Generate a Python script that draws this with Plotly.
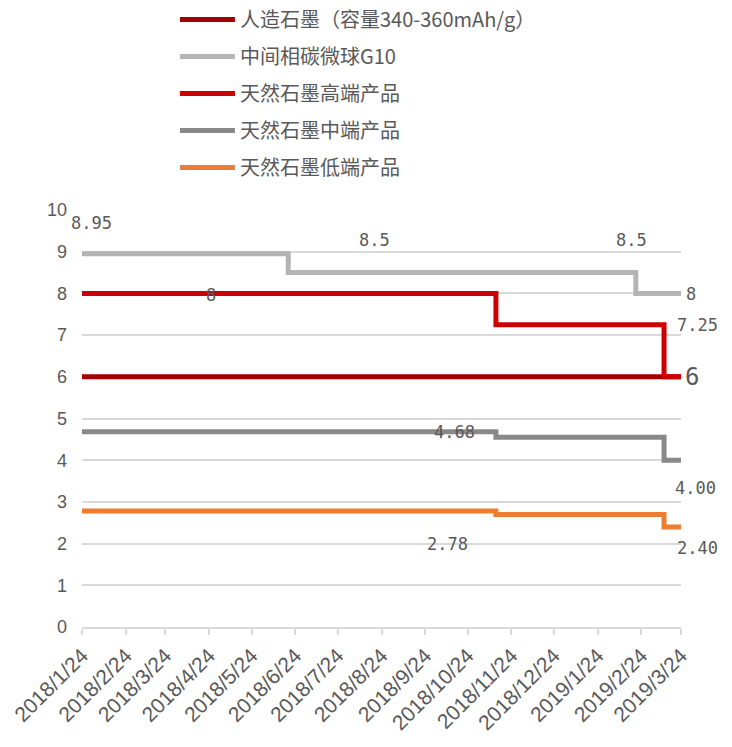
import plotly.graph_objects as go

# ---- data ----
names = ["人造石墨（容量340-360mAh/g）", "中间相碳微球G10", "天然石墨高端产品", "天然石墨中端产品", "天然石墨低端产品"]
colors = ["#A00000", "#B4B4B4", "#CC0000", "#898989", "#ED7D31"]

art_dates = ["2018-01-24", "2019-03-24"]
art_vals = [6, 6]
g10_dates = ["2018-01-24", "2018-06-19", "2019-02-20", "2019-03-24"]
g10_vals = [8.95, 8.5, 8, 8]
high_dates = ["2018-01-24", "2018-11-13", "2019-03-12", "2019-03-24"]
high_vals = [8, 7.25, 6, 6]
mid_dates = ["2018-01-24", "2018-11-13", "2019-03-12", "2019-03-24"]
mid_vals = [4.68, 4.55, 4.0, 4.0]
low_dates = ["2018-01-24", "2018-11-13", "2019-03-12", "2019-03-24"]
low_vals = [2.78, 2.7, 2.4, 2.4]

tick_dates = ["2018-01-24", "2018-02-24", "2018-03-24", "2018-04-24", "2018-05-24",
              "2018-06-24", "2018-07-24", "2018-08-24", "2018-09-24", "2018-10-24",
              "2018-11-24", "2018-12-24", "2019-01-24", "2019-02-24", "2019-03-24"]
tick_text = ["2018/1/24", "2018/2/24", "2018/3/24", "2018/4/24", "2018/5/24",
             "2018/6/24", "2018/7/24", "2018/8/24", "2018/9/24", "2018/10/24",
             "2018/11/24", "2018/12/24", "2019/1/24", "2019/2/24", "2019/3/24"]

series = [(art_dates, art_vals), (g10_dates, g10_vals), (high_dates, high_vals),
          (mid_dates, mid_vals), (low_dates, low_vals)]

# data labels inside the plot: (text, x, y)
labels_in = [
    ("8.95", "2018-01-31", 9.69),
    ("8.5", "2018-08-19", 9.28),
    ("8.5", "2019-02-17", 9.28),
    ("8", "2018-04-25", 7.97),
    ("4.68", "2018-10-15", 4.68),
    ("2.78", "2018-10-10", 2.0),
]
# data labels at the right end: (text, y, xshift, size)
labels_end = [
    ("8", 7.99, 3, 17),
    ("7.25", 7.24, -6, 17),
    ("6", 6.0, 2, 24),
    ("4.00", 3.33, -8, 17),
    ("2.40", 1.89, -6, 17),
]

fig = go.Figure()
for i, (nm, col, (xs, ys)) in enumerate(zip(names, colors, series)):
    fig.add_trace(go.Scatter(
        x=xs, y=ys, name=nm, mode="lines",
        line=dict(color=col, width=5, shape="hv"),
        legendgroup=f"g{i}", hoverinfo="skip"))

lab_font = "DejaVu Sans Mono, Noto Sans CJK SC"
for txt, x, y in labels_in:
    fig.add_annotation(x=x, y=y, xref="x", yref="y", text=txt, showarrow=False,
                       xanchor="center", yanchor="middle",
                       font=dict(family=lab_font, size=17, color="#595959"))
for txt, y, xs, sz in labels_end:
    fig.add_annotation(x=1, y=y, xref="paper", yref="y", text=txt, showarrow=False,
                       xanchor="left", yanchor="middle", xshift=xs,
                       font=dict(family=lab_font, size=sz, color="#595959"))

fig.update_layout(
    width=732, height=747,
    margin=dict(l=82, r=51, t=210, b=120, autoexpand=False),
    paper_bgcolor="white", plot_bgcolor="white",
    showlegend=True,
    legend=dict(
        xref="container", yref="container", x=0.239, y=1.0,
        xanchor="left", yanchor="top", orientation="v",
        font=dict(family="Noto Sans CJK SC", size=20, color="#595959"),
        itemwidth=55, tracegroupgap=8, bgcolor="rgba(0,0,0,0)",
        traceorder="grouped"),
    xaxis=dict(
        type="date", range=["2018-01-24", "2019-03-24"],
        tickmode="array", tickvals=tick_dates, ticktext=tick_text,
        tickangle=-45, showgrid=False,
        showline=True, linecolor="#D9D9D9", linewidth=2,
        ticks="outside", ticklen=6, tickcolor="#D9D9D9", tickwidth=2,
        tickfont=dict(family="Liberation Sans", size=21, color="#595959"),
        zeroline=False),
    yaxis=dict(
        range=[0, 10], tickmode="array", tickvals=list(range(0, 11)),
        showgrid=True, gridcolor="#D9D9D9", gridwidth=1.5,
        zeroline=False, showline=False,
        ticklabelstandoff=14,
        tickfont=dict(family="Liberation Sans", size=18, color="#595959")),
)

fig.write_html("out.html")
